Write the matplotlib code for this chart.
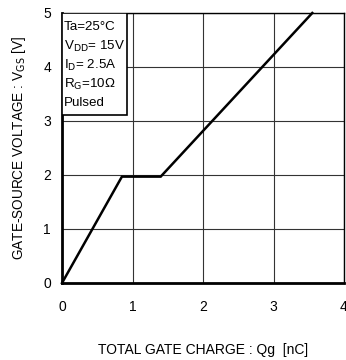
import matplotlib
matplotlib.use("Agg")
import matplotlib.pyplot as plt
from matplotlib.patches import Rectangle

plt.rcParams['font.family'] = ['Liberation Sans', 'DejaVu Sans']

qg = [0.0, 0.85, 1.40, 3.55]
vgs = [0.0, 1.97, 1.97, 5.0]
xticks = [0, 1, 2, 3, 4]
yticks = [0, 1, 2, 3, 4, 5]
cond_lines = ["Ta=25°C", "V$_{\\rm DD}$= 15V", "I$_{\\rm D}$= 2.5A", "R$_{\\rm G}$=10Ω", "Pulsed"]

fig = plt.figure(figsize=(3.46, 3.60), dpi=100)
ax = fig.add_axes([62/346, 77/360, 282/346, 270/360])
ax.set_xlim(0, 4)
ax.set_ylim(0, 5)
ax.set_xticks(xticks)
ax.set_yticks(yticks)
ax.grid(True, color='#333333', linewidth=0.8)
ax.set_axisbelow(True)
ax.plot(qg, vgs, color='black', linewidth=1.8, solid_joinstyle='miter', zorder=3, clip_on=False)

for s in ['left', 'bottom']:
    ax.spines[s].set_linewidth(2.0)
for s in ['top', 'right']:
    ax.spines[s].set_linewidth(1.0)
ax.tick_params(length=0, labelsize=10, pad=12)
ax.tick_params(axis='y', pad=8)

ax.set_xlabel("TOTAL GATE CHARGE : Qg  [nC]", fontsize=10, labelpad=21)
ax.set_ylabel("GATE-SOURCE VOLTAGE : V$_{\\rm GS}$ [V]", fontsize=9.8, labelpad=11)

rect = Rectangle((0, 3.11), 0.92, 1.89, facecolor='white', edgecolor='black', linewidth=1.2, zorder=4)
ax.add_patch(rect)
y0 = 4.74
for i, t in enumerate(cond_lines):
    ax.text(0.03, y0 - i * 0.352, t, fontsize=9.6, va='center', ha='left', zorder=5)

fig.savefig("out.png", dpi=100)
